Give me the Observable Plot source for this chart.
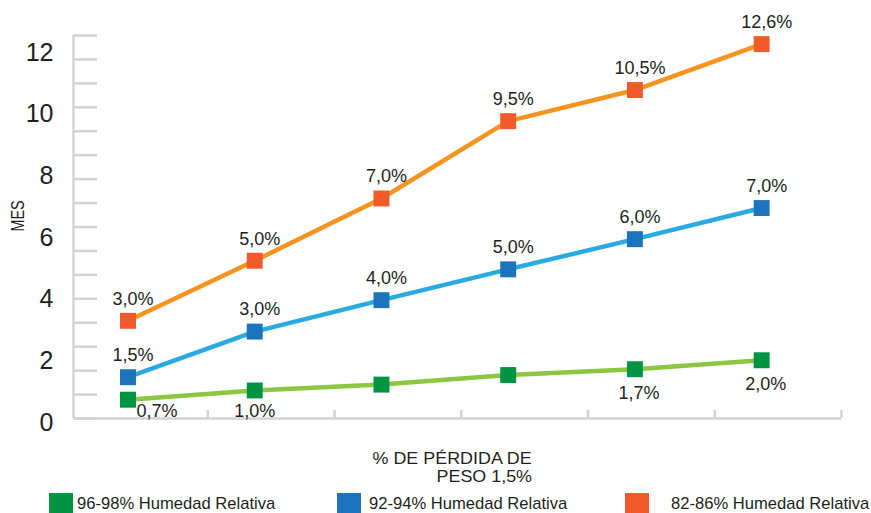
<!DOCTYPE html>
<html>
<head>
<meta charset="utf-8">
<script src="https://cdn.jsdelivr.net/npm/d3@7"></script>
<script src="https://cdn.jsdelivr.net/npm/@observablehq/plot@0.6"></script>
<style>
  body { margin: 0; background: #fff; }
  #wrap { position: relative; width: 871px; height: 513px; overflow: hidden; font-family: "Liberation Sans", Arial, Helvetica, sans-serif; color: #231f20; }
  #chart { position: absolute; left: 0; top: 0; }
  .abs { position: absolute; white-space: nowrap; }
  .xt { position: absolute; right: 339px; font-size: 16.5px; line-height: 1; transform: scaleX(1.085); transform-origin: right center; white-space: nowrap; }
  .sw { position: absolute; width: 24px; height: 24px; }
  .lg { position: absolute; font-size: 16.6px; line-height: 1; }
</style>
</head>
<body>
<div id="wrap">
  <div id="chart"></div>
  <div class="abs" id="ylab" style="left:18px; top:216px; font-size:18px; line-height:1; transform: translate(-50%,-50%) rotate(-90deg) scaleX(0.8);">MES</div>
  <div class="xt" style="top:450px;">% DE PÉRDIDA DE</div>
  <div class="xt" style="top:468px;">PESO 1,5%</div>
  <div id="legend"></div>
</div>
<script>
// ---- data ----
const puntos = [0, 1, 2, 3, 4, 5];
const series = ["96-98% Humedad Relativa", "92-94% Humedad Relativa", "82-86% Humedad Relativa"];
const verde = [0.74, 1.04, 1.23, 1.54, 1.73, 2.02];
const azul = [1.47, 2.95, 3.97, 4.97, 5.95, 6.96];
const naranja = [3.3, 5.25, 7.27, 9.78, 10.79, 12.28];
const etiquetasVerde = ["0,7%", "1,0%", null, null, "1,7%", "2,0%"];
const etiquetasAzul = ["1,5%", "3,0%", "4,0%", "5,0%", "6,0%", "7,0%"];
const etiquetasNaranja = ["3,0%", "5,0%", "7,0%", "9,5%", "10,5%", "12,6%"];
const yTicks = [0, 2, 4, 6, 8, 10, 12];

// ---- styles ----
const lineColors = ["#8dc63f", "#29abe2", "#f7941d"];
const markColors = ["#009444", "#1c75bc", "#f15a29"];
const grid = "#d1d3d4";
const font = '"Liberation Sans", Arial, Helvetica, sans-serif';

const xDom = [-0.43, 5.63];
const yDom = [0.13, 12.56];
const gridTicks = d3.range(17).map(i => yDom[0] + i * (yDom[1] - yDom[0]) / 16);
const xTicks = puntos.map(i => i + 0.63);

const rows = [];
[verde, azul, naranja].forEach((vals, s) => {
  const labs = [etiquetasVerde, etiquetasAzul, etiquetasNaranja][s];
  puntos.forEach((p, i) => rows.push({serie: series[s], s, i, x: p, y: vals[i], label: labs[i]}));
});

const plot = Plot.plot({
  width: 871,
  height: 440,
  marginLeft: 73,
  marginRight: 30,
  marginTop: 35,
  marginBottom: 22,
  x: {domain: xDom, axis: null},
  y: {domain: yDom, axis: null},
  style: {fontFamily: font, color: "#231f20", background: "transparent", overflow: "visible"},
  marks: [
    Plot.ruleY(gridTicks, {y: d => d, x1: () => xDom[0], x2: () => xDom[0] + 0.19, stroke: grid, strokeWidth: 2.5}),
    Plot.ruleX(xTicks, {x: d => d, y1: () => yDom[0], y2: () => yDom[0] + 0.26, stroke: grid, strokeWidth: 2.5}),
    Plot.ruleY([yDom[0]], {stroke: grid, strokeWidth: 2.5}),
    Plot.ruleX([xDom[0]], {stroke: grid, strokeWidth: 2.5}),
    Plot.axisY(yTicks, {anchor: "left", label: null, tickSize: 0, tickPadding: 20, fontSize: 25, fill: "#231f20", tickFormat: d => String(d)}),
    ...[0, 1, 2].map(s => Plot.line(rows.filter(r => r.s === s), {x: "x", y: "y", stroke: lineColors[s], strokeWidth: 4.5})),
    ...[0, 1, 2].map(s => Plot.dot(rows.filter(r => r.s === s), {x: "x", y: "y", symbol: "square", r: 9, fill: markColors[s], stroke: "none"})),
    Plot.text(rows.filter(r => r.s > 0), {x: "x", y: "y", text: "label", dy: -22, dx: 5, fontSize: 18, fill: "#231f20"}),
    Plot.text(rows.filter(r => r.s === 0 && r.i === 0), {x: "x", y: "y", text: "label", dy: 12, dx: 29, fontSize: 18, fill: "#231f20"}),
    Plot.text(rows.filter(r => r.s === 0 && r.i === 1), {x: "x", y: "y", text: "label", dy: 21, dx: 0, fontSize: 18, fill: "#231f20"}),
    Plot.text(rows.filter(r => r.s === 0 && r.i > 1 && r.label), {x: "x", y: "y", text: "label", dy: 24, dx: 4, fontSize: 18, fill: "#231f20"})
  ]
});
document.getElementById("chart").appendChild(plot);

// legend
const legend = document.getElementById("legend");
const swX = [49, 337, 625];
const txX = [77, 369, 671];
series.forEach((name, s) => {
  const sw = document.createElement("div");
  sw.className = "sw";
  sw.style.left = swX[s] + "px";
  sw.style.top = "493px";
  sw.style.background = markColors[s];
  legend.appendChild(sw);
  const t = document.createElement("div");
  t.className = "lg";
  t.style.left = txX[s] + "px";
  t.style.top = "496px";
  t.textContent = name;
  legend.appendChild(t);
});
</script>
</body>
</html>
